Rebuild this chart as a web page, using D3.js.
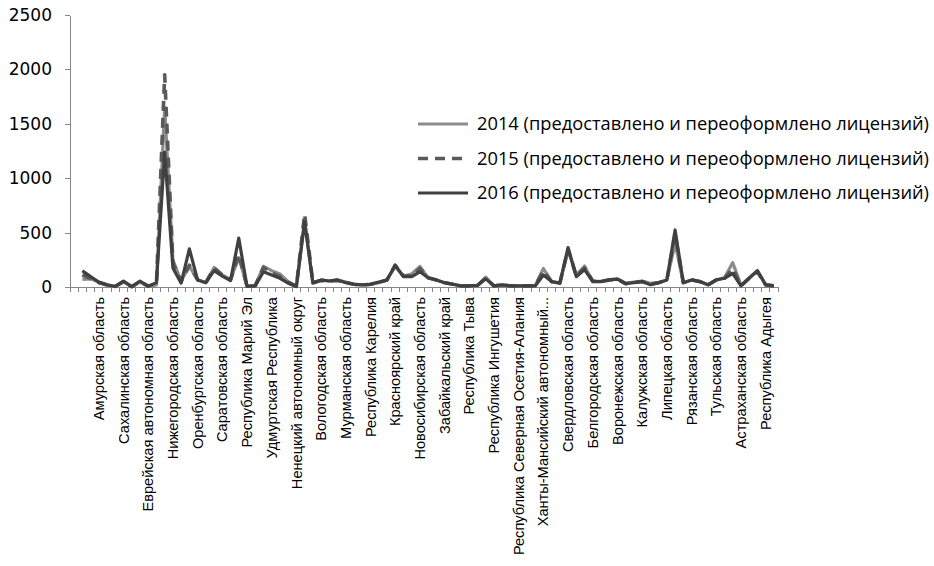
<!DOCTYPE html>
<head>
<meta charset="utf-8">
<style>
body { margin: 0; background: #fff; }
.axis path, .axis line { stroke: #868686; stroke-width: 1; shape-rendering: crispEdges; }
.ylab text { font-family: "DejaVu Sans", sans-serif; font-size: 17px; fill: #000; }
.xlab text { font-family: "Liberation Sans", Arial, sans-serif; font-size: 14.6px; fill: #000; }
.legend text { font-family: "Open Sans", sans-serif; font-size: 18px; fill: #000; }
.series { fill: none; stroke-linejoin: round; }
</style>
</head>
<body>
<svg width="934" height="566"></svg>
<script src="https://d3js.org/d3.v7.min.js"></script>
<script>
// регионы (первая позиция пустая, без данных)
var regions = ["",
  "Республика Саха (Якутия)", "Камчатский край", "Амурская область", "Приморский край", "Хабаровский край",
  "Сахалинская область", "Магаданская область", "Чукотский автономный округ", "Еврейская автономная область",
  "г. Севастополь", "Республика Крым",
  "Нижегородская область", "Кировская область", "Самарская область", "Оренбургская область", "Пензенская область",
  "Пермский край", "Саратовская область", "Ульяновская область", "Республика Башкортостан", "Республика Марий Эл",
  "Республика Мордовия", "Республика Татарстан", "Удмуртская Республика", "Чувашская Республика",
  "Архангельская область", "Ненецкий автономный округ", "Республика Коми", "Калининградская область",
  "Вологодская область", "Ленинградская область", "Новгородская область", "Мурманская область",
  "Псковская область", "г. Санкт-Петербург", "Республика Карелия",
  "Алтайский край", "Иркутская область", "Красноярский край", "Кемеровская область", "Омская область",
  "Новосибирская область", "Томская область", "Республика Бурятия", "Забайкальский край", "Республика Алтай",
  "Республика Хакасия", "Республика Тыва",
  "Республика Дагестан", "Ставропольский край", "Республика Ингушетия", "Кабардино-Балкарская Республика",
  "Карачаево-Черкесская Республика", "Республика Северная Осетия-Алания", "Чеченская Республика",
  "Курганская область", "Ханты-Мансийский автономный...", "Ямало-Ненецкий автономный округ",
  "Тюменская область", "Свердловская область", "Челябинская область",
  "Брянская область", "Белгородская область", "Владимирская область", "Ивановская область",
  "Воронежская область", "Костромская область", "Курская область", "Калужская область", "Орловская область",
  "Смоленская область", "Липецкая область", "Московская область", "Тамбовская область", "Рязанская область",
  "Тверская область", "Ярославская область", "Тульская область", "г. Москва",
  "Краснодарский край", "Астраханская область", "Волгоградская область", "Ростовская область",
  "Республика Адыгея", "Республика Калмыкия"];

var v2014 = [null,
  70, 75, 45, 20, 5, 45, 3, 45, 5, 20, 1650, 250, 55, 190, 70, 40, 180, 110, 70, 270,
  10, 15, 190, 150, 120, 50, 8, 610, 40, 60, 55, 65, 45, 25, 20, 25, 40, 65, 190, 100,
  120, 190, 85, 65, 40, 25, 10, 10, 15, 90, 10, 20, 10, 10, 10, 10, 170, 50, 35, 340,
  110, 193, 50, 55, 65, 75, 35, 45, 55, 35, 40, 65, 400, 40, 65, 50, 20, 65, 85, 224,
  15, 85, 150, 20, 10];

var v2015 = [null,
  110, 80, 40, 18, 5, 50, 3, 50, 8, 30, 1950, 220, 50, 200, 65, 40, 175, 110, 65, 300,
  8, 12, 180, 130, 95, 45, 5, 670, 40, 60, 55, 60, 40, 25, 20, 25, 40, 65, 200, 100,
  100, 170, 85, 65, 40, 25, 10, 10, 15, 80, 10, 20, 10, 10, 10, 10, 150, 50, 35, 350,
  100, 175, 55, 50, 65, 73, 30, 40, 50, 25, 40, 65, 480, 40, 65, 50, 20, 65, 80, 170,
  10, 80, 140, 20, 10];

var v2016 = [null,
  150, 95, 45, 20, 5, 55, 3, 55, 8, 40, 1240, 175, 35, 350, 65, 40, 150, 100, 60, 450,
  5, 10, 140, 110, 80, 35, 5, 600, 35, 65, 55, 65, 40, 25, 20, 25, 45, 65, 200, 95,
  95, 140, 85, 65, 40, 25, 10, 10, 15, 75, 10, 20, 10, 10, 10, 10, 110, 50, 35, 362,
  95, 160, 50, 50, 65, 73, 30, 40, 50, 20, 40, 65, 524, 40, 65, 50, 20, 65, 80, 126,
  10, 80, 150, 20, 10];

var seriesNames = [
  "2014 (предоставлено и переоформлено лицензий)",
  "2015 (предоставлено и переоформлено лицензий)",
  "2016 (предоставлено и переоформлено лицензий)"];

var yTicks = [0, 500, 1000, 1500, 2000, 2500];
var labelStep = 3;

var svg = d3.select("svg");
var plotL = 70, plotR = 778, plotT = 15, plotB = 287;

var x = d3.scaleBand().domain(d3.range(regions.length)).range([plotL, plotR]).padding(0);
var y = d3.scaleLinear().domain([0, 2500]).range([plotB, plotT]);
var bw = x.bandwidth();

// оси
svg.append("g")
  .attr("class", "axis ylab")
  .attr("transform", "translate(" + plotL + ",0)")
  .call(d3.axisLeft(y).tickValues(yTicks).tickFormat(d3.format("d"))
    .tickSize(5).tickSizeOuter(0).tickPadding(13));

var xa = svg.append("g").attr("class", "axis").attr("transform", "translate(0," + plotB + ")");
xa.append("line").attr("x1", plotL).attr("x2", plotR);
xa.selectAll("line.tk")
  .data(d3.range(regions.length + 1))
  .enter().append("line")
  .attr("class", "tk")
  .attr("x1", function(i) { return i < regions.length ? x(i) : plotR; })
  .attr("x2", function(i) { return i < regions.length ? x(i) : plotR; })
  .attr("y1", 0).attr("y2", 5);

svg.append("g")
  .attr("class", "xlab")
  .selectAll("text")
  .data(d3.range(0, regions.length, labelStep))
  .enter().append("text")
  .attr("transform", function(i) { return "translate(" + (x(i) + bw / 2) + "," + (plotB + 10) + ") rotate(-90)"; })
  .attr("text-anchor", "end")
  .attr("dy", "0.35em")
  .text(function(i) { return regions[i]; });

// линии
var styles = [
  { color: "#8c8c8c", dash: null, width: 3.2 },
  { color: "#595959", dash: "10,7", width: 3.6 },
  { color: "#404040", dash: null, width: 3.2 }];
var data = [v2014, v2015, v2016];

var line = d3.line()
  .defined(function(d) { return d != null; })
  .x(function(d, i) { return x(i) + bw / 2; })
  .y(function(d) { return y(d); });

data.forEach(function(vals, k) {
  svg.append("path")
    .attr("class", "series")
    .attr("d", line(vals))
    .attr("stroke", styles[k].color)
    .attr("stroke-width", styles[k].width)
    .attr("stroke-dasharray", styles[k].dash);
});

// легенда
var lg = svg.append("g").attr("class", "legend");
seriesNames.forEach(function(name, k) {
  var ly = 124 + k * 34.5;
  lg.append("line")
    .attr("x1", 418).attr("x2", 468).attr("y1", ly).attr("y2", ly)
    .attr("stroke", styles[k].color)
    .attr("stroke-width", styles[k].width)
    .attr("stroke-dasharray", styles[k].dash);
  lg.append("text")
    .attr("x", 477).attr("y", ly).attr("dy", "0.35em")
    .attr("textLength", 452).attr("lengthAdjust", "spacingAndGlyphs")
    .text(name);
});
</script>
</body>
